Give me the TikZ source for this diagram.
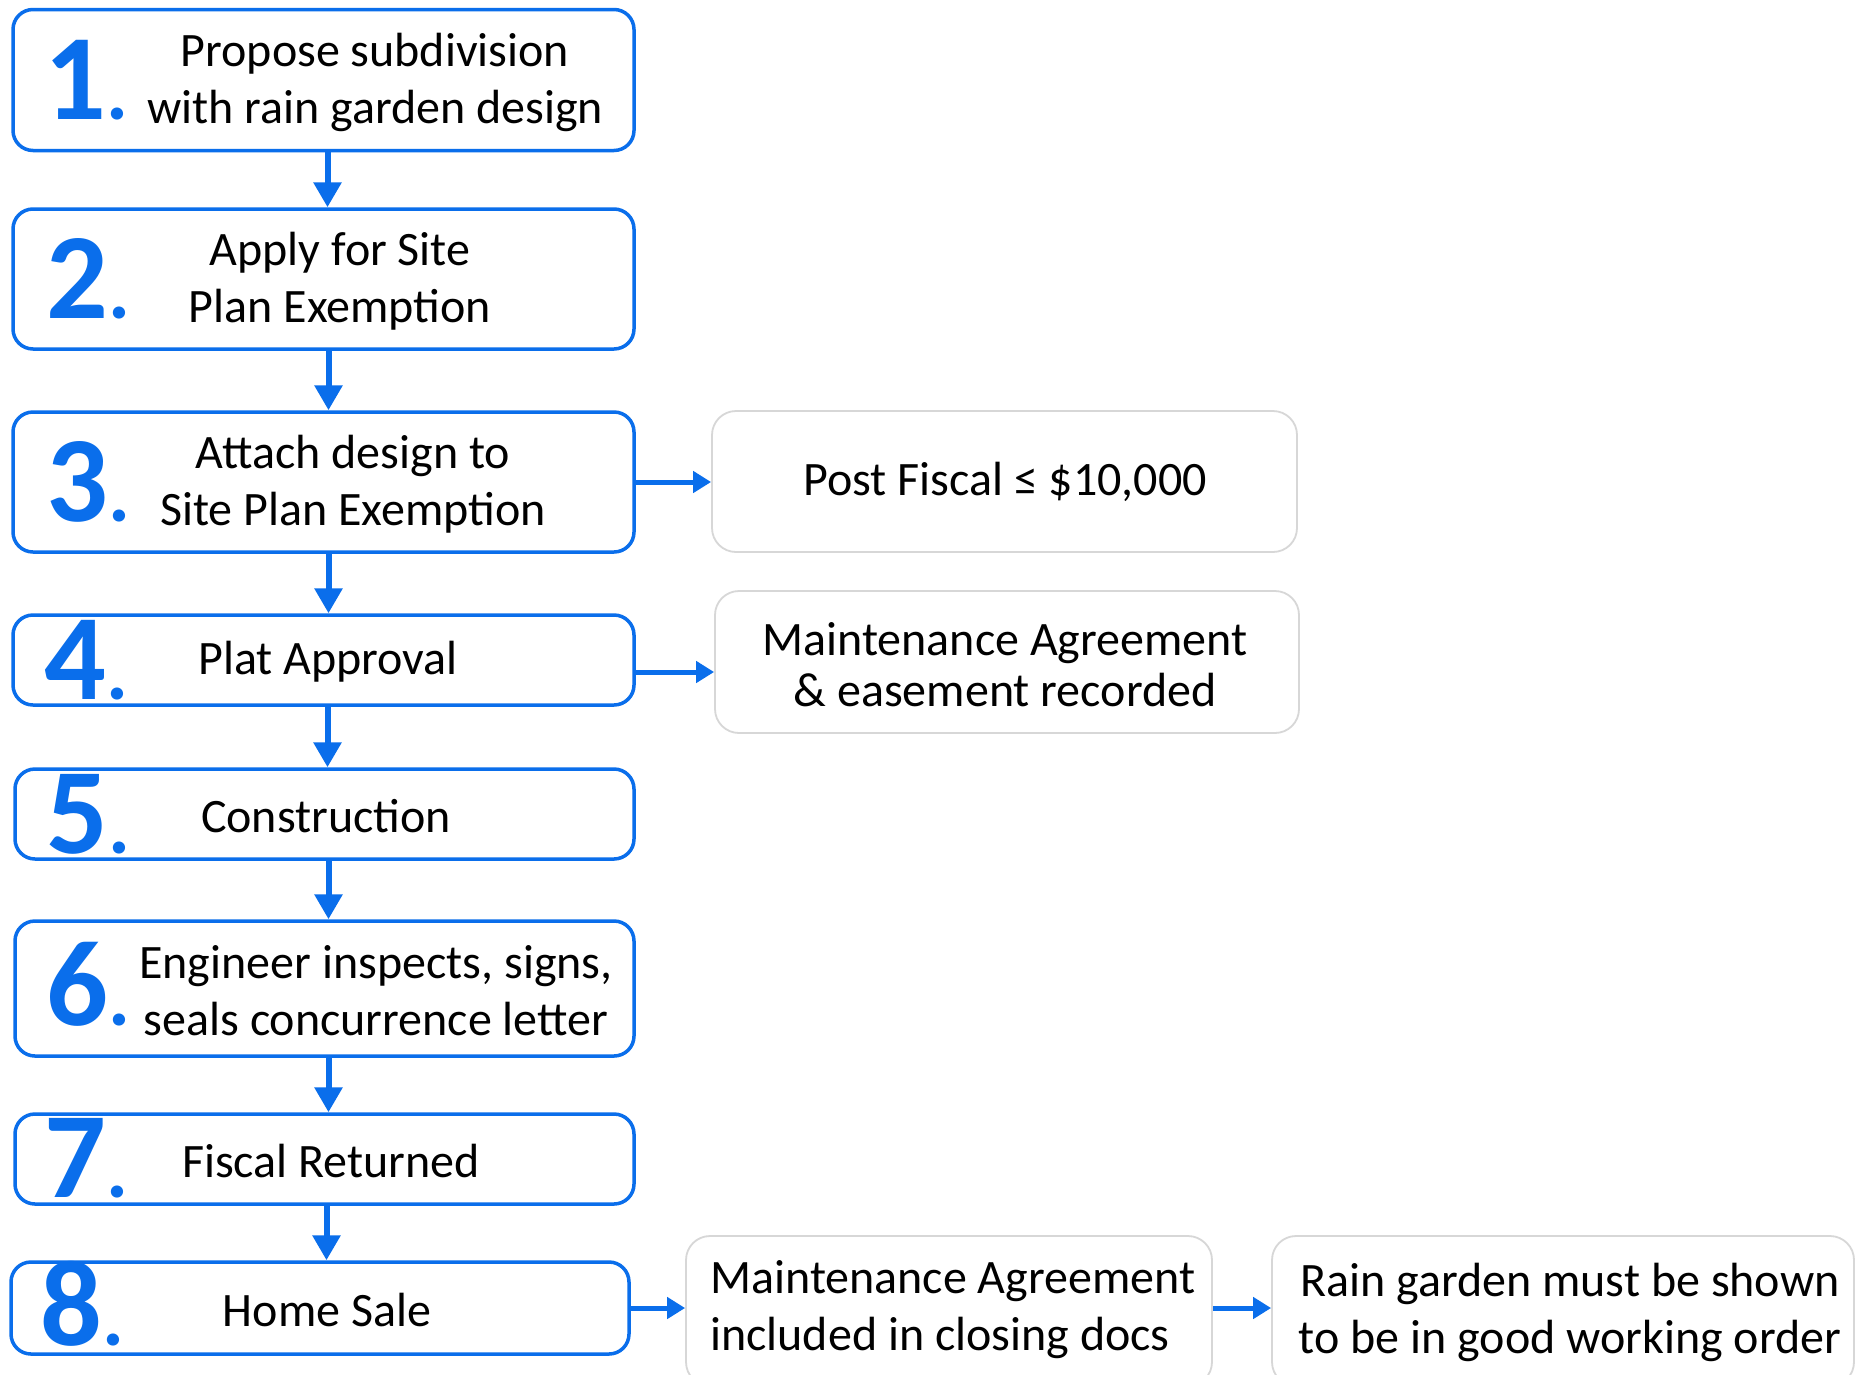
\documentclass[tikz,border=0pt]{standalone}
\usepackage{fontspec}
\setmainfont{Carlito}
\usetikzlibrary{arrows.meta}
\definecolor{stepblue}{RGB}{10,110,235}
\definecolor{sidegray}{RGB}{215,215,215}
\newcommand{\smalldot}{{\fontsize{82}{82}\selectfont.}}
\begin{document}
\begin{tikzpicture}[x=1pt,y=-1pt,
  stepbox/.style={draw=stepblue, line width=3.5pt, rounded corners=20pt, fill=white, inner sep=0pt},
  sidebox/.style={draw=sidegray, line width=1.8pt, rounded corners=24pt, fill=white, inner sep=0pt},
  num/.style={text=stepblue, font=\fontsize{122}{122}\selectfont\bfseries, anchor=base west, inner sep=0pt},
  txt/.style={font=\fontsize{48}{57}\selectfont, align=center, inner sep=0pt, yshift=-2pt},
  varrow/.style={draw=stepblue, line width=6pt, -{Triangle[length=25pt,width=27pt]}},
  harrow/.style={draw=stepblue, line width=5pt, -{Triangle[length=18pt,width=21pt]}}]
\useasboundingbox[fill=white] (0,0) rectangle (1862,1374);

% main step boxes
\node[stepbox, minimum width=621pt, minimum height=141pt] (b1) at (323.5,80) {};
\node[stepbox, minimum width=621pt, minimum height=140pt] (b2) at (323.5,279) {};
\node[stepbox, minimum width=621pt, minimum height=140pt] (b3) at (323.5,482) {};
\node[stepbox, minimum width=621pt, minimum height=90pt] (b4) at (323.5,660) {};
\node[stepbox, minimum width=619pt, minimum height=90pt] (b5) at (324.5,814) {};
\node[stepbox, minimum width=619pt, minimum height=135pt] (b6) at (324.5,988.5) {};
\node[stepbox, minimum width=619pt, minimum height=90pt] (b7) at (324.5,1159) {};
\node[stepbox, minimum width=618pt, minimum height=92pt] (b8) at (320,1308) {};

% numbers
\node[num] (n1) at (44,119) {1\smalldot};
\node[num] (n2) at (46,318) {2\smalldot};
\node[num] (n3) at (46,521) {3\smalldot};
\node[num] (n4) at (44,699) {4\smalldot};
\node[num] (n5) at (46,853) {5\smalldot};
\node[num] (n6) at (46,1025) {6\smalldot};
\node[num] (n7) at (44,1197) {7\smalldot};
\node[num] (n8) at (40,1345) {8\smalldot};

% step texts
\node[txt] (t1) at (375,80) {Propose subdivision\\with rain garden design};
\node[txt] (t2) at (340,279) {Apply for Site\\Plan Exemption};
\node[txt] (t3) at (353,482) {Attach design to\\Site Plan Exemption};
\node[txt] (t4) at (328,660) {Plat Approval};
\node[txt] (t5) at (326,814) {Construction};
\node[txt] (t6) at (376,989) {Engineer inspects, signs,\\seals concurrence letter};
\node[txt] (t7) at (331,1159) {Fiscal Returned};
\node[txt] (t8) at (327,1308) {Home Sale};

% side boxes
\node[sidebox, minimum width=585pt, minimum height=141pt] (s3) at (1004.5,481.5) {};
\node[txt] (u3) at (1005,480) {Post Fiscal ≤ \$10,000};
\node[sidebox, minimum width=584pt, minimum height=142pt] (s4) at (1007,662) {};
\node[txt, font=\fontsize{48}{51}\selectfont] (u4) at (1005,663) {Maintenance Agreement\\\& easement recorded};
\node[sidebox, minimum width=526pt, minimum height=150pt] (s8a) at (949,1311) {};
\node[txt, align=left, anchor=west] (u8a) at (710,1308) {Maintenance Agreement\\included in closing docs};
\node[sidebox, minimum width=582pt, minimum height=150pt] (s8b) at (1563,1311) {};
\node[txt] (u8b) at (1570,1310) {Rain garden must be shown\\to be in good working order};

% vertical connectors
\draw[varrow] ([xshift=4pt]b1.south) -- ([xshift=4pt]b2.north);
\draw[varrow] ([xshift=5pt]b2.south) -- ([xshift=5pt]b3.north);
\draw[varrow] ([xshift=5pt]b3.south) -- ([xshift=5pt]b4.north);
\draw[varrow] ([xshift=4pt]b4.south) -- ([xshift=4pt]b4.south |- b5.north);
\draw[varrow] ([xshift=4pt]b5.south) -- ([xshift=4pt]b6.north);
\draw[varrow] ([xshift=4pt]b6.south) -- ([xshift=4pt]b7.north);
\draw[varrow] ([xshift=2pt]b7.south) -- ([xshift=2pt]b7.south |- b8.north);

% horizontal connectors
\draw[harrow] (b3.east) -- (b3.east -| s3.west);
\draw[harrow] ([yshift=-12pt]b4.east) -- ([yshift=-12pt]b4.east -| s4.west);
\draw[harrow] (b8.east) -- (b8.east -| s8a.west);
\draw[harrow] (s8a.east |- b8.east) -- (b8.east -| s8b.west);
\end{tikzpicture}
\end{document}
